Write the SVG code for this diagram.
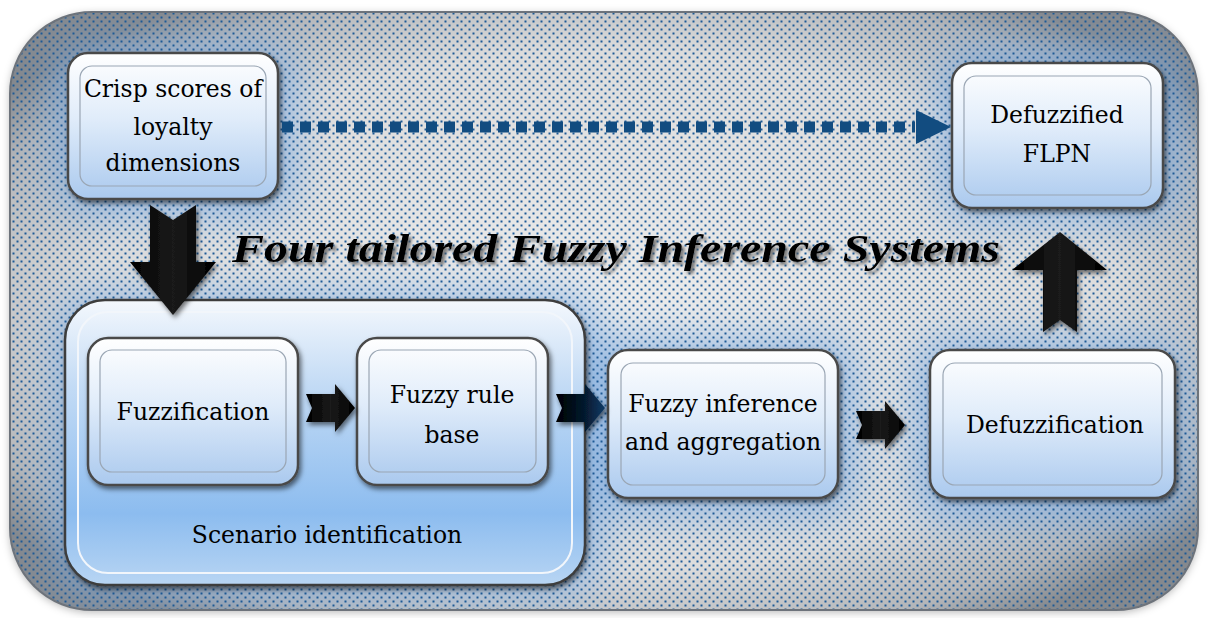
<svg xmlns="http://www.w3.org/2000/svg" width="1210" height="618" viewBox="0 0 1210 618">
<defs>
  <style>
    .t{fill:#000;text-anchor:middle;font-family:'DejaVu Serif','Liberation Serif',serif;font-size:23.5px}
    .nodeOuter{fill:url(#nodeGrad);stroke:#4a4a4a;stroke-width:2.5}
    .nodeInner{fill:none;stroke:#9aa6b4;stroke-width:1.2}
    .blk{fill:url(#arrowGrad)}
  </style>
  <pattern id="dots" width="8" height="8" patternUnits="userSpaceOnUse">
    <rect x="0.5" y="0.5" width="2" height="2" fill="#1d5a96"/>
    <rect x="4.5" y="4.5" width="2" height="2" fill="#1d5a96"/>
  </pattern>
  <radialGradient id="bgGrad" cx="0.5" cy="0.5" r="0.62">
    <stop offset="0" stop-color="#ececec"/>
    <stop offset="0.7" stop-color="#dcdcdc"/>
    <stop offset="0.9" stop-color="#b4b6b9"/>
    <stop offset="1" stop-color="#85898e"/>
  </radialGradient>
  <linearGradient id="nodeGrad" x1="0" y1="0" x2="0" y2="1">
    <stop offset="0" stop-color="#ffffff"/>
    <stop offset="0.45" stop-color="#e0ecfa"/>
    <stop offset="1" stop-color="#aac9ee"/>
  </linearGradient>
  <linearGradient id="contGrad" x1="0" y1="0" x2="0" y2="1">
    <stop offset="0" stop-color="#f4f8fd"/>
    <stop offset="0.3" stop-color="#c3dbf5"/>
    <stop offset="0.75" stop-color="#8cbcef"/>
    <stop offset="1" stop-color="#b8d5f3"/>
  </linearGradient>
  <linearGradient id="arrowGrad" x1="0" y1="0" x2="1" y2="0">
    <stop offset="0" stop-color="#000"/>
    <stop offset="0.5" stop-color="#1a1a1a"/>
    <stop offset="1" stop-color="#000"/>
  </linearGradient>
  <linearGradient id="arrowGradBlue" x1="0" y1="0" x2="1" y2="0">
    <stop offset="0" stop-color="#000"/>
    <stop offset="0.6" stop-color="#061a30"/>
    <stop offset="1" stop-color="#0d3a66"/>
  </linearGradient>
  <filter id="blur20" x="-50%" y="-50%" width="200%" height="200%">
    <feGaussianBlur stdDeviation="20"/>
  </filter>
  <filter id="shadow" x="-20%" y="-20%" width="140%" height="140%">
    <feDropShadow dx="2" dy="3" stdDeviation="2.5" flood-color="#000" flood-opacity="0.55"/>
  </filter>
  <filter id="frameShadow" x="-5%" y="-5%" width="110%" height="110%">
    <feDropShadow dx="0" dy="2" stdDeviation="4" flood-color="#000" flood-opacity="0.3"/>
  </filter>
  <filter id="txtShadow" x="-5%" y="-20%" width="110%" height="150%">
    <feDropShadow dx="3" dy="3" stdDeviation="1.5" flood-color="#555" flood-opacity="0.7"/>
  </filter>
  <clipPath id="frameClip">
    <rect x="10" y="12" width="1188" height="598" rx="82"/>
  </clipPath>
</defs>

<!-- background frame -->
<g id="frame">
  <rect x="10" y="12" width="1188" height="598" rx="82" fill="url(#bgGrad)" filter="url(#frameShadow)"/>
  <g clip-path="url(#frameClip)">
    <g filter="url(#blur20)" fill="#7eabe0" opacity="0.75">
      <rect x="55" y="45" width="240" height="170" rx="30"/>
      <rect x="55" y="295" width="545" height="300" rx="40"/>
      <rect x="595" y="340" width="260" height="175" rx="30"/>
      <rect x="915" y="340" width="270" height="180" rx="30"/>
      <rect x="940" y="50" width="240" height="170" rx="30"/>
    </g>
    <rect x="10" y="12" width="1188" height="598" fill="url(#dots)"/>
  </g>
  <rect x="10" y="12" width="1188" height="598" rx="82" fill="none" stroke="#6d737b" stroke-width="2"/>
</g>

<!-- title -->
<g id="title">
  <text x="616" y="262" text-anchor="middle" font-family="'Liberation Serif',serif" font-size="40" font-weight="bold" font-style="italic" fill="#000" textLength="768" lengthAdjust="spacingAndGlyphs" filter="url(#txtShadow)">Four tailored Fuzzy Inference Systems</text>
</g>

<!-- nodes -->
<g id="crisp">
  <rect class="nodeOuter" x="68" y="53" width="210" height="146" rx="20" filter="url(#shadow)"/>
  <rect class="nodeInner" x="80" y="66" width="186" height="120" rx="12"/>
  <text class="t" x="173" y="97">Crisp scores of</text>
  <text class="t" x="173" y="135">loyalty</text>
  <text class="t" x="173" y="171">dimensions</text>
</g>

<g id="defuzzified">
  <rect class="nodeOuter" x="952" y="63" width="211" height="145" rx="20" filter="url(#shadow)"/>
  <rect class="nodeInner" x="964" y="76" width="187" height="119" rx="12"/>
  <text class="t" x="1057" y="123">Defuzzified</text>
  <text class="t" x="1057" y="162">FLPN</text>
</g>

<g id="scenario">
  <rect x="65" y="300" width="520" height="285" rx="40" fill="url(#contGrad)" stroke="#3d3d3d" stroke-width="2.5" filter="url(#shadow)"/>
  <rect x="78" y="312" width="494" height="261" rx="30" fill="none" stroke="#f2f6fb" stroke-width="2"/>
  <text class="t" x="327" y="543">Scenario identification</text>
</g>

<g id="fuzzification">
  <rect class="nodeOuter" x="88" y="338" width="210" height="147" rx="20" filter="url(#shadow)"/>
  <rect class="nodeInner" x="100" y="350" width="186" height="122" rx="12"/>
  <text class="t" x="193" y="420">Fuzzification</text>
</g>

<g id="rulebase">
  <rect class="nodeOuter" x="357" y="338" width="191" height="147" rx="20" filter="url(#shadow)"/>
  <rect class="nodeInner" x="369" y="350" width="167" height="122" rx="12"/>
  <text class="t" x="452" y="403">Fuzzy rule</text>
  <text class="t" x="452" y="443">base</text>
</g>

<g id="inference">
  <rect class="nodeOuter" x="608" y="350" width="230" height="148" rx="20" filter="url(#shadow)"/>
  <rect class="nodeInner" x="621" y="363" width="204" height="122" rx="12"/>
  <text class="t" x="723" y="412">Fuzzy inference</text>
  <text class="t" x="723" y="450">and aggregation</text>
</g>

<g id="defuzzification">
  <rect class="nodeOuter" x="930" y="350" width="245" height="148" rx="20" filter="url(#shadow)"/>
  <rect class="nodeInner" x="943" y="363" width="219" height="122" rx="12"/>
  <text class="t" x="1055" y="433">Defuzzification</text>
</g>

<!-- connectors -->
<g id="connectors">
  <line x1="282" y1="127" x2="915" y2="127" stroke="#124c80" stroke-width="11" stroke-dasharray="11 7"/>
  <polygon points="916,110 951,127 916,144" fill="#124c80"/>
  <polygon class="blk" points="150,205 173,220 196,205 196,262 216,262 173,315 130,262 150,262" filter="url(#shadow)"/>
  <polygon class="blk" points="306,394 335,394 335,384 355,408 335,432 335,422 306,422 312,408" filter="url(#shadow)"/>
  <polygon fill="url(#arrowGradBlue)" points="556,394 585,394 585,384 605,408 585,432 585,422 556,422 562,408" filter="url(#shadow)"/>
  <polygon class="blk" points="856,411 885,411 885,401 905,425 885,449 885,439 856,439 862,425" filter="url(#shadow)"/>
  <polygon class="blk" points="1043,332 1060,320 1077,332 1077,270 1107,270 1060,232 1012,270 1043,270" filter="url(#shadow)"/>
</g>
</svg>
